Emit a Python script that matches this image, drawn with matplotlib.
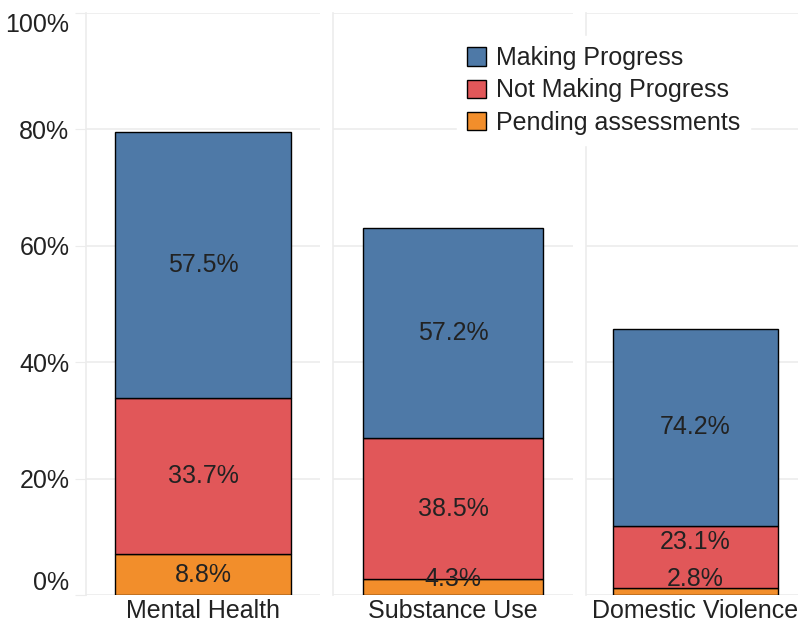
import matplotlib
matplotlib.use("Agg")
import matplotlib.pyplot as plt
from matplotlib.patches import Patch

plt.rcParams['font.family'] = ['Liberation Sans', 'DejaVu Sans']

categories = ["Mental Health", "Substance Use", "Domestic Violence"]
totals = [79.5, 63.1, 45.7]          # bar height (% of y axis)
series = ["Making Progress", "Not Making Progress", "Pending assessments"]
making = [57.5, 57.2, 74.2]          # share of bar, %
not_making = [33.7, 38.5, 23.1]
pending = [8.8, 4.3, 2.8]
colors = ["#4e79a7", "#e15759", "#f28e2b"]

grid_col = "#ececec"
txt_col = "#222222"
fs = 18

fig = plt.figure(figsize=(7.98, 6.24), dpi=100)
W, H = 798, 624
panels = [(86, 320), (333, 573), (586, 805)]
bottom_px, top_px = 595, 13

for i, cat in enumerate(categories):
    x0, x1 = panels[i]
    ax = fig.add_axes([x0 / W, 1 - bottom_px / H, (x1 - x0) / W, (bottom_px - top_px) / H])
    ax.set_xlim(-0.5, 0.5)
    ax.set_ylim(0, 100)
    ax.set_yticks([0, 20, 40, 60, 80, 100])
    ax.grid(axis='y', color=grid_col, lw=1.2, zorder=0)
    ax.set_axisbelow(True)
    for s in ['top', 'right', 'bottom']:
        ax.spines[s].set_visible(False)
    ax.spines['left'].set_color(grid_col)
    ax.spines['left'].set_linewidth(1.2)

    # stacked segments, bottom to top
    shares = [pending[i], not_making[i], making[i]]
    cols = [colors[2], colors[1], colors[0]]
    base = 0
    label_y = -100
    for sh, c in zip(shares, cols):
        h = totals[i] * sh / 100
        ax.bar(0, h, width=0.75, bottom=base, color=c, edgecolor='black',
               linewidth=1.0, zorder=3)
        y = max(base + h / 2, label_y + 6.4, 2.7)
        ax.text(0, y, f"{sh:.1f}%", ha='center', va='center', fontsize=fs,
                color=txt_col, zorder=4)
        label_y = y
        base += h

    ax.set_xticks([0])
    ax.set_xticklabels([cat], fontsize=fs, color=txt_col)
    ax.tick_params(axis='x', length=0, pad=3)
    if i == 0:
        ax.set_yticklabels([f"{v}%" for v in [0, 20, 40, 60, 80, 100]],
                           fontsize=fs, color=txt_col)
        ax.tick_params(axis='y', length=8, color=grid_col, pad=4)
        labs = ax.get_yticklabels()
        labs[0].set_va('bottom')
        labs[-1].set_va('top')
        labs[-1].set_y(98.5)
    else:
        ax.tick_params(axis='y', length=0, labelleft=False)

handles = [Patch(facecolor=c, edgecolor='black', linewidth=1.0) for c in colors]
fig.legend(handles, series, loc='upper left', bbox_to_anchor=(0.557, 0.962),
           fontsize=fs, frameon=True, facecolor='white', edgecolor='white',
           framealpha=1, handlelength=0.75, handleheight=0.75,
           handletextpad=0.4, labelspacing=0.33, borderpad=0.4,
           labelcolor=txt_col)

fig.savefig("out.png", dpi=100)
